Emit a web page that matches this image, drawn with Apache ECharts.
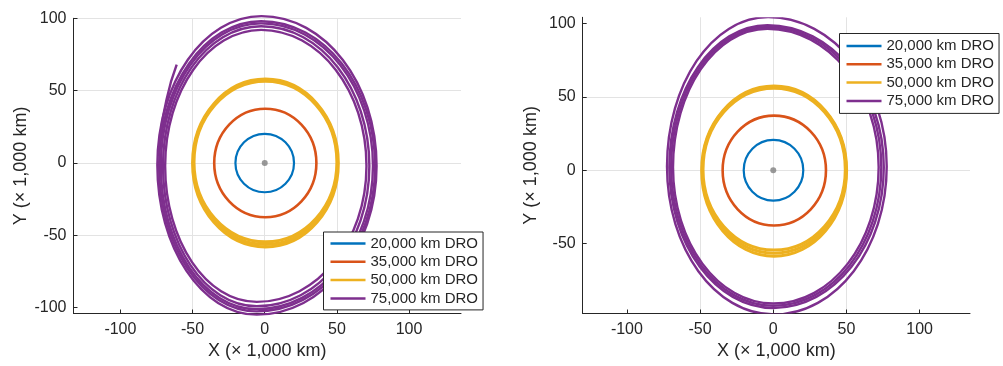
<!DOCTYPE html>
<html>
<head>
<meta charset="utf-8">
<script src="https://cdn.jsdelivr.net/npm/echarts@6/dist/echarts.min.js"></script>
<style>
  html, body { margin: 0; padding: 0; background: #ffffff; }
  #chart { width: 1003px; height: 366px; }
</style>
</head>
<body>
<div id="chart"></div>
<script>
// Orbit names and colours
const orbitNames = ['20,000 km DRO', '35,000 km DRO', '50,000 km DRO', '75,000 km DRO'];
const orbitColors = ['#0072BD', '#D95319', '#EDB120', '#7E2F8E'];

// Tick labels (× 1,000 km)
const xTicks = [-100, -50, 0, 50, 100];
const yTicksLeft = [-100, -50, 0, 50, 100];
const yTicksRight = [-50, 0, 50, 100];

// Moon at the origin
const moon = [[0, 0]];

// One revolution per row, given by its four extreme points (× 1,000 km):
// [left x, left y, top x, top y, right x, right y, bottom x, bottom y]

// Left panel
const dro20Left = [[-20.3, 0, 0, 20.2, 20.3, 0, 0, -20.2]];
const dro35Left = [[-35, 0, 0.4, 37.5, 35.8, 0, 0.4, -37.5]];
const dro50Left = [
  [-50, 0, 0.5, 58, 51, 0, 0.5, -58],
  [-49.5, 0.2, 0.5, 57.2, 50.5, 0.2, 0.5, -56.3],
  [-49, 0.5, 0.5, 56.5, 50, 0.5, 0.5, -54.5]
];
const dro75Left = [
  [-74.4, -1.5, -2.3, 101.5, 77.5, -2, -5.5, -104.8],
  [-73.2, -2, -2.5, 98, 76.5, -2, -5.5, -102.5],
  [-72, -2, -2.5, 96.5, 75, -2, -5.5, -101],
  [-70.5, -2, -2.5, 94.5, 72.5, -2, -5.5, -99],
  [-69, -2, -2.5, 92, 70.5, -2, -5.5, -96]
];
// Start of the 75,000 km trajectory before it joins the band
const dro75LeftStart = [[-61, 68], [-65, 56], [-68, 44], [-70.5, 32], [-72.5, 18], [-73.8, 5]];

// Right panel
const dro20Right = [[-20.2, 0, 0, 20.7, 20.5, 0, 0, -20.7]];
const dro35Right = [[-34.6, 0, 0.5, 37.3, 36, 0, 0.5, -37.7]];
const dro50Right = [
  [-48.9, 0, 0.5, 57.5, 50.1, 0, 0.5, -58.7],
  [-48.5, 0.2, 0.5, 56.8, 49.7, 0.2, 0.5, -56.6],
  [-48, 0.5, 0.5, 56, 49.2, 0.5, 0.5, -54.5]
];
const dro75Right = [
  [-72.6, 2.5, -3.5, 104.5, 77.5, 2.5, 0.5, -98.5],
  [-71, 2, -4, 99, 75.5, 2, 0, -94],
  [-69.8, 2, -4, 97.8, 73.8, 2, 0, -92.5],
  [-68.5, 2, -4, 96.6, 72, 2, 0, -91]
];

const FONT = '"Liberation Sans", Arial, Helvetica, sans-serif';
const INK = '#262626';
const GRIDLINE = '#e3e3e3';
const widths = [2.2, 2.6, 3, 2.4];
const KAPPA = 0.5523; // cubic Bézier quarter-ellipse constant

function xAxisFor(gridIndex, min, max) {
  return {
    type: 'value', gridIndex, min, max,
    name: 'X (× 1,000 km)', nameLocation: 'middle', nameGap: 28,
    nameTextStyle: { fontSize: 18, color: INK, fontFamily: FONT },
    axisLine: { show: true, onZero: false, lineStyle: { color: INK, width: 1 } },
    axisTick: { show: true, inside: true, length: 4, customValues: xTicks, lineStyle: { color: INK } },
    axisLabel: { show: true, margin: 8, fontSize: 16, color: INK, fontFamily: FONT, customValues: xTicks },
    splitLine: { show: true, showMinLine: false, showMaxLine: false, lineStyle: { color: GRIDLINE, width: 1 } }
  };
}

function yAxisFor(gridIndex, min, max, ticks, showMax) {
  return {
    type: 'value', gridIndex, min, max,
    name: 'Y (× 1,000 km)', nameLocation: 'middle', nameGap: 43, nameRotate: 90,
    nameTextStyle: { fontSize: 18, color: INK, fontFamily: FONT },
    axisLine: { show: true, onZero: false, lineStyle: { color: INK, width: 1 } },
    axisTick: { show: true, inside: true, length: 4, customValues: ticks, lineStyle: { color: INK } },
    axisLabel: { show: true, margin: 7, fontSize: 16, color: INK, fontFamily: FONT, customValues: ticks },
    splitLine: { show: true, showMinLine: false, showMaxLine: showMax, lineStyle: { color: GRIDLINE, width: 1 } }
  };
}

function legendAt(left, top, padding) {
  return {
    data: orbitNames, left, top, orient: 'vertical', padding,
    icon: 'rect', itemWidth: 35, itemHeight: 2.5, itemGap: 3.3,
    textStyle: { fontSize: 15, lineHeight: 15, color: INK, fontFamily: FONT },
    borderColor: INK, borderWidth: 1, borderRadius: 0, backgroundColor: '#ffffff',
    selectedMode: false
  };
}

// Closed loop through the four extreme points, one cubic per quadrant
function loopRenderer(idx) {
  return function (params, api) {
    const p = (i) => api.coord([api.value(i), api.value(i + 1)]);
    const L = p(0), T = p(2), R = p(4), B = p(6);
    const k = KAPPA;
    const d = [
      'M', L[0], L[1],
      'C', L[0], L[1] + k * (T[1] - L[1]), T[0] + k * (L[0] - T[0]), T[1], T[0], T[1],
      'C', T[0] + k * (R[0] - T[0]), T[1], R[0], R[1] + k * (T[1] - R[1]), R[0], R[1],
      'C', R[0], R[1] + k * (B[1] - R[1]), B[0] + k * (R[0] - B[0]), B[1], B[0], B[1],
      'C', B[0] + k * (L[0] - B[0]), B[1], L[0], L[1] + k * (B[1] - L[1]), L[0], L[1],
      'Z'
    ].join(' ');
    return {
      type: 'path',
      shape: { pathData: d },
      style: { fill: 'none', stroke: orbitColors[idx], lineWidth: widths[idx], lineJoin: 'round' },
      silent: true
    };
  };
}

function orbitSeries(idx, data, axisIndex, clip) {
  return {
    type: 'custom', name: orbitNames[idx], data,
    xAxisIndex: axisIndex, yAxisIndex: axisIndex,
    color: orbitColors[idx], itemStyle: { color: orbitColors[idx] },
    renderItem: loopRenderer(idx), clip, silent: true, z: 2
  };
}

function startSeries(data, axisIndex) {
  return {
    type: 'line', name: orbitNames[3], data, xAxisIndex: axisIndex, yAxisIndex: axisIndex,
    color: orbitColors[3], symbol: 'none', smooth: false, clip: false,
    lineStyle: { width: widths[3], color: orbitColors[3], join: 'round', cap: 'butt' },
    emphasis: { disabled: true }, silent: true, z: 2
  };
}

function moonSeries(axisIndex) {
  return {
    type: 'scatter', data: moon, xAxisIndex: axisIndex, yAxisIndex: axisIndex,
    symbolSize: 6, itemStyle: { color: '#7f7f7f' }, z: 5, silent: true
  };
}

const chart = echarts.init(document.getElementById('chart'), null, { renderer: 'canvas' });
chart.setOption({
  animation: false,
  backgroundColor: '#ffffff',
  grid: [
    { left: 73.5, top: 18.3, width: 387.5, height: 295.2, containLabel: false },
    { left: 582.7, top: 17.3, width: 387.3, height: 296.2, containLabel: false }
  ],
  xAxis: [xAxisFor(0, -132.5, 136.0), xAxisFor(1, -130.2, 134.4)],
  yAxis: [yAxisFor(0, -104, 100, yTicksLeft, true), yAxisFor(1, -97.8, 104.4, yTicksRight, false)],
  legend: [legendAt(323.5, 232, [4, 5, 4, 7]), legendAt(839.5, 33.5, [5, 5, 5, 7])],
  series: [
    orbitSeries(0, dro20Left, 0, false),
    orbitSeries(1, dro35Left, 0, false),
    orbitSeries(2, dro50Left, 0, false),
    orbitSeries(3, dro75Left, 0, false),
    startSeries(dro75LeftStart, 0),
    moonSeries(0),
    orbitSeries(0, dro20Right, 1, true),
    orbitSeries(1, dro35Right, 1, true),
    orbitSeries(2, dro50Right, 1, true),
    orbitSeries(3, dro75Right, 1, true),
    moonSeries(1)
  ]
});
</script>
</body>
</html>
